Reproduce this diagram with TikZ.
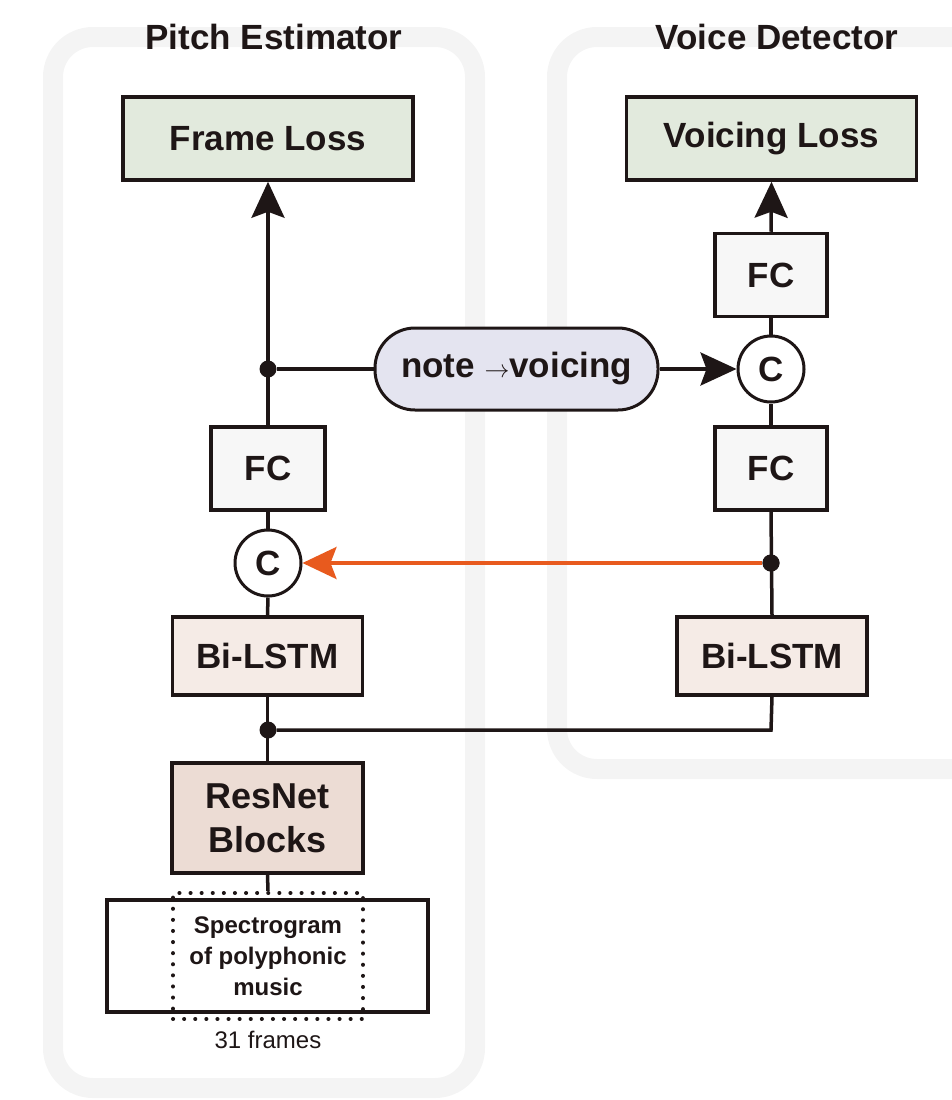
\documentclass[tikz,border=0pt]{standalone}
\usepackage{fontspec}
\setmainfont{Liberation Sans}
\usetikzlibrary{arrows.meta}

\definecolor{panelgray}{HTML}{F4F4F4}
\definecolor{lossgreen}{HTML}{E2EADD}
\definecolor{pillblue}{HTML}{E4E4F0}
\definecolor{lstmfill}{HTML}{F5EBE6}
\definecolor{resfill}{HTML}{ECDCD4}
\definecolor{fcfill}{HTML}{F7F7F7}
\definecolor{linkorange}{HTML}{E85A1E}
\definecolor{ink}{HTML}{1E1616}

\tikzset{
  big/.style={font=\fontsize{35}{38}\selectfont\bfseries},
  blk/.style={draw=ink, line width=3.5pt, rectangle, inner sep=0pt, big, text=ink},
  loss/.style={blk, fill=lossgreen, minimum width=290pt, minimum height=83pt},
  fcbox/.style={blk, fill=fcfill, minimum width=112pt, minimum height=83pt},
  lstm/.style={blk, fill=lstmfill, minimum width=190pt, minimum height=78pt},
  cat/.style={draw=ink, line width=3pt, circle, fill=white, minimum size=66pt, inner sep=0pt, big, text=ink},
  dot/.style={circle, fill=ink, minimum size=17pt, inner sep=0pt},
  wire/.style={draw=ink, line width=3.5pt},
  tip/.style={-{Stealth[length=36pt,width=33pt,inset=6pt]}},
  panel/.style={draw=panelgray, line width=20pt, rounded corners=40pt},
  title/.style={big, text=ink}
}

\begin{document}
\begin{tikzpicture}[x=1pt, y=-1pt]
  \useasboundingbox (0,0) rectangle (952,1100);
  \clip (0,0) rectangle (952,1100);

  % group frames
  \draw[panel] (53,37) rectangle (475,1088);
  \draw[panel] (557,37) rectangle (1010,769);
  \node[title] (ttlL) at (274,37) {Pitch Estimator};
  \node[title] (ttlR) at (777,37) {Voice Detector};

  % pitch estimator column
  \node[loss] (floss) at (268,138.5) {Frame Loss};
  \node[fcbox, minimum width=114pt] (fcL) at (268,468.5) {FC};
  \node[cat] (cL) at (268,563) {C};
  \node[lstm] (bilL) at (267.5,656) {Bi-LSTM};
  \node[blk, fill=resfill, minimum width=191pt, minimum height=110pt,
        align=center, font=\fontsize{36}{44}\selectfont\bfseries] (res) at (267.5,818) {ResNet\\Blocks};
  \node[draw=ink, line width=3.5pt, minimum width=321pt, minimum height=112pt,
        inner sep=0pt] (spec) at (267.5,956) {};
  \node[draw=ink, line width=4pt, line cap=round, dash pattern=on 0.1pt off 11pt,
        minimum width=190pt, minimum height=126pt,
        inner sep=0pt, align=center, text=ink,
        font=\fontsize{24}{31}\selectfont\bfseries] (win) at (268,956)
        {Spectrogram\\of polyphonic\\music};
  \node[text=ink, font=\fontsize{24}{26}\selectfont] (frm) at (268,1040) {31 frames};

  % voice detector column
  \node[loss] (vloss) at (771.5,138.5) {Voicing Loss};
  \node[fcbox] (fcR1) at (771,275) {FC};
  \node[cat] (cR) at (771,369) {C};
  \node[fcbox] (fcR2) at (771,468.5) {FC};
  \node[lstm] (bilR) at (772,656) {Bi-LSTM};

  % bridge
  \node[draw=ink, line width=3pt, fill=pillblue, rounded corners=40pt,
        minimum width=283pt, minimum height=82pt, inner sep=0pt, big, text=ink]
        (pill) at (516.5,369) {note $\rightarrow$voicing};

  % junctions
  \node[dot] (jL1) at (268,369) {};
  \node[dot] (jR) at (771,563) {};
  \node[dot] (jL2) at (268,730) {};
  \coordinate (cornR) at (771,730);

  % connectors
  \draw[wire, tip] (fcL.north) -- (floss.south);
  \draw[wire] (jL1) -- (pill.west);
  \draw[wire, tip] (pill.east) -- (cR.west);
  \draw[wire] (fcL.south) -- (cL.north);
  \draw[wire] (cL.south) -- (bilL.north);
  \draw[wire] (bilL.south) -- (res.north);
  \draw[wire] (res.south) -- (win.north);
  \draw[wire] (jL2) -- (cornR) -- (bilR.south);
  \draw[wire] (bilR.north) -- (fcR2.south);
  \draw[wire] (fcR2.north) -- (cR.south);
  \draw[wire] (cR.north) -- (fcR1.south);
  \draw[wire, tip] (fcR1.north) -- (vloss.south);
  \draw[draw=linkorange, line width=3.5pt,
        -{Stealth[length=34pt,width=32pt,inset=6pt]}] (jR) -- (cL.east);
  \node[dot] at (jR) {};
\end{tikzpicture}
\end{document}
